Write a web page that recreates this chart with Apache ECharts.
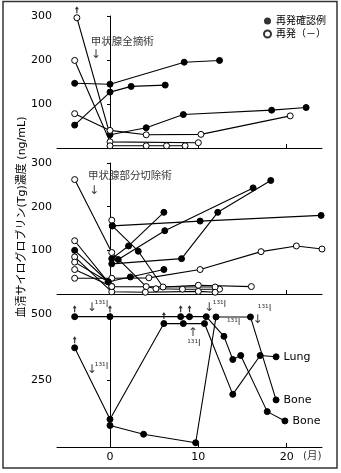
<!DOCTYPE html>
<html><head><meta charset="utf-8">
<script src="https://cdn.jsdelivr.net/npm/echarts@6/dist/echarts.min.js"></script>
<style>html,body{margin:0;padding:0;background:#fff}#c{width:341px;height:473px}</style>
</head><body><div id="c"></div>
<script>
// ---- data: [month, Tg value, 'f' = relapse confirmed (filled), 'o' = no relapse (open)]
const panel1Lines = [
  [[-4,147,'f'],[0,145,'f'],[8.4,195,'f'],[12.4,199,'f']],
  [[-4,52,'f'],[0,127,'f'],[2.4,140,'f'],[6.25,143,'f']],
  [[-3.75,296,'o'],[0,30,'f'],[4.1,46,'f'],[8.3,76,'f'],[18.3,86,'f'],[22.2,92,'f']],
  [[-4,199,'o'],[0,14,'o'],[10,12,'o']],
  [[-4,78,'o'],[0,40,'o'],[4.1,30,'o'],[10.3,31,'o'],[20.4,73,'o']],
  [[0,5,'o'],[4.1,5,'o'],[6.4,5,'o'],[8.5,5,'o']]
];
const panel2Lines = [
  [[0.26,156,'f'],[10.2,167,'f'],[23.9,180,'f']],
  [[0.2,169,'o']],
  [[0.26,156,'f'],[3.2,98,'f'],[6.0,16,'o'],[10.0,20,'o'],[16.0,17,'o']],
  [[-4,36,'o'],[0.2,36,'o'],[4.4,37,'o'],[10.2,56,'o'],[17.1,97,'o'],[21.1,110,'o'],[24,103,'o']],
  [[-4,100,'f'],[-0.2,28,'f'],[2.3,39,'f'],[6.1,56,'f']],
  [[0.2,69,'f'],[8.1,81,'f'],[12.2,187,'f'],[18.2,260,'f']],
  [[0.2,81,'f'],[2.1,110,'f'],[6.1,187,'f']],
  [[0.93,79,'f'],[6.2,145,'f'],[16.2,243,'f']],
  [[-4,262,'o'],[0.2,95,'o'],[4.1,17,'o'],[5.2,12,'o'],[8.2,11,'o'],[12.4,11,'o']],
  [[-4,122,'o'],[0.2,17,'o'],[11.9,16,'o']],
  [[-4,85,'o'],[0.2,5,'o'],[4.0,4,'o'],[10.0,6,'o'],[11.9,4,'o']],
  [[-4,73,'o'],[-0.2,28,'f']],
  [[-4,56,'o'],[0.2,17,'o']]
];
const panel3Lines = [
  [[-4,490,'f'],[0,490,'f'],[8,490,'f'],[9,490,'f'],[10.9,490,'f'],[12.9,416,'f'],[13.9,329,'f'],[14.8,344,'f'],[17.8,133,'f'],[19.8,98,'f']],
  [[-4,373,'f'],[0,104,'f'],[6.1,464,'f'],[8.3,464,'f'],[10.7,464,'f'],[13.9,198,'f'],[17.0,344,'f'],[18.8,339,'f']],
  [[0,81,'f'],[3.8,48,'f'],[9.7,16,'f'],[12.0,489,'f'],[15.9,489,'f'],[18.8,177,'f']]
];
const panel3EndLabels = ['Bone','Lung','Bone'];
// points whose true value is above the plotted value (small up arrows)
const arrowsP1 = [[-3.75,296]];
const arrowsP3 = [[-4,490],[0,490],[8,490],[9,490],[6.1,464],[-4,373]];
// annotations: [month, value, text]
const notesP1 = [[1.4,241,'甲状腺全摘術'],[-1.6,211,'↓']];
const notesP2 = [[2.25,269,'甲状腺部分切除術'],[-1.8,236,'↓']];
const notesP3 = [
  [-2.07,523,'↓'],[-0.95,534,'¹³¹I'],
  [-2.07,289,'↓'],[-0.95,301,'¹³¹I'],
  [9.36,429,'↑'],[9.5,387,'¹³¹I'],
  [11.2,523,'↓'],[12.4,534,'¹³¹I'],
  [14.0,466,'¹³¹I'],
  [16.7,477,'↓'],[17.5,519,'¹³¹I'],
  [22.9,-34,'(月)']
];
const yTicks = [[0,300,100],[0,300,100],[0,500,250]];
const xTickValues = [0,10,20];
const legendNames = ['再発確認例','再発（－）'];

const INK = '#000';
const FONT = '"DejaVu Sans","Noto Sans CJK JP",sans-serif';

const grids = [
  {left:57,right:19,top:16,height:132},
  {left:57,right:19,top:163,height:131},
  {left:57,right:19,top:314,height:133}
];
const xAxes = grids.map((g,i)=>({
  type:'value', gridIndex:i, min:-6, max:24,
  axisLine:{show:true,lineStyle:{color:INK,width:1}},
  axisTick:{show:true,inside:true,length:4,customValues:xTickValues,lineStyle:{color:INK}},
  axisLabel:{show:i===2,customValues:xTickValues,fontSize:11,color:INK,fontFamily:FONT,margin:5},
  splitLine:{show:false}
}));
const yAxes = yTicks.map((t,i)=>({
  type:'value', gridIndex:i, min:t[0], max:t[1], interval:t[2],
  axisLine:{show:true,lineStyle:{color:INK,width:1}},
  axisTick:{show:true,length:3,lineStyle:{color:INK}},
  axisLabel:{fontSize:11,color:INK,fontFamily:FONT,margin:5,formatter:v=>v===0?'':String(v)},
  splitLine:{show:false}
}));

function lineSeries(pts, gi, endLabel){
  return {
    type:'line', xAxisIndex:gi, yAxisIndex:gi, symbol:'circle', symbolSize:6, showSymbol:true,
    lineStyle:{color:INK,width:1.1}, itemStyle:{color:INK}, clip:false, animation:false,
    data: pts.map((p,k)=>{
      const d = {value:[p[0],p[1]], itemStyle:{color:p[2]==='f'?INK:'#fff',borderColor:INK,borderWidth:1}};
      if (endLabel && k===pts.length-1) d.label = {show:true,position:'right',distance:4,formatter:endLabel,fontSize:11,color:INK,fontFamily:FONT};
      return d;
    })
  };
}
function arrowSeries(pts, gi){
  return {type:'scatter', xAxisIndex:gi, yAxisIndex:gi, clip:false, animation:false, z:5,
    symbol:'path://M2,0 L4,3 L2.6,3 L2.6,7 L1.4,7 L1.4,3 L0,3 Z', symbolSize:[4,7], symbolOffset:[0,-8],
    itemStyle:{color:INK}, data: pts.map(p=>[p[0],p[1]])};
}
function noteSeries(notes, gi){
  return {type:'scatter', xAxisIndex:gi, yAxisIndex:gi, clip:false, animation:false, z:6,
    symbol:'circle', symbolSize:0.1, itemStyle:{color:'rgba(0,0,0,0)'},
    data: notes.map(n=>({value:[n[0],n[1]], label:{show:true,position:'inside',formatter:n[2],
      fontSize: n[2]==='↓'||n[2]==='↑' ? 12 : (n[2].indexOf('¹')>=0 ? 9 : 10.5),
      color:INK,fontFamily:FONT}}))};
}

const series = [];
panel1Lines.forEach(l=>series.push(lineSeries(l,0)));
panel2Lines.forEach(l=>series.push(lineSeries(l,1)));
panel3Lines.forEach((l,i)=>series.push(lineSeries(l,2,panel3EndLabels[i])));
series.push(arrowSeries(arrowsP1,0), arrowSeries(arrowsP3,2));
series.push(noteSeries(notesP1,0), noteSeries(notesP2,1), noteSeries(notesP3,2));
// legend carriers
series.push({type:'scatter',name:legendNames[0],xAxisIndex:0,yAxisIndex:0,data:[],symbol:'circle',itemStyle:{color:INK,borderColor:INK,borderWidth:0}});
series.push({type:'scatter',name:legendNames[1],xAxisIndex:0,yAxisIndex:0,data:[],symbol:'circle',itemStyle:{color:'#fff',borderColor:INK,borderWidth:1}});

const chart = echarts.init(document.getElementById('c'), null, {renderer:'canvas'});
chart.setOption({
  animation:false,
  backgroundColor:'#fff',
  grid:grids, xAxis:xAxes, yAxis:yAxes, series:series,
  legend:{data:legendNames, orient:'vertical', left:263, top:16, padding:0, itemWidth:7, itemHeight:7, itemGap:3,
    icon:'circle', textStyle:{fontSize:10,color:INK,fontFamily:FONT}, selectedMode:false},
  graphic:[
    {type:'rect', shape:{x:3,y:1.5,width:334,height:466.5}, style:{fill:'none',stroke:'#333',lineWidth:1.5}, silent:true},
    {type:'text', x:22, y:217, rotation:Math.PI/2, style:{text:'血清サイログロブリン(Tg)濃度 (ng/mL)', fontSize:11, fill:INK,
      fontFamily:FONT, align:'center', verticalAlign:'middle'}}
  ]
});
</script></body></html>
